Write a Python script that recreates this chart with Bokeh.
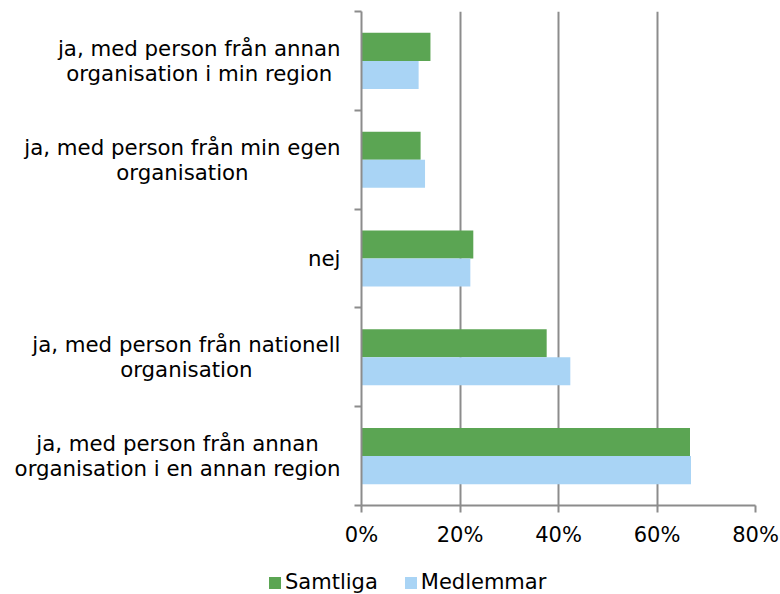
from bokeh.plotting import figure
from bokeh.layouts import column, row
from bokeh.models import (FixedTicker, NumeralTickFormatter, Legend,
                          LegendItem, Range1d, ColumnDataSource)
from bokeh.core.properties import value
from bokeh.transform import dodge
from bokeh.embed import file_html
from bokeh.resources import INLINE

# ---- data (top to bottom as in the chart) ----
categories = [
    "ja, med person från annan\norganisation i min region",
    "ja, med person från min egen\norganisation",
    "nej",
    "ja, med person från nationell\norganisation",
    "ja, med person från annan\norganisation i en annan region",
]
samtliga = [0.140, 0.120, 0.227, 0.376, 0.667]
medlemmar = [0.116, 0.129, 0.221, 0.424, 0.669]
x_ticks = [0.0, 0.2, 0.4, 0.6, 0.8]
series_names = ["Samtliga", "Medlemmar"]

GREEN = "#5BA553"
BLUE = "#A9D4F5"
GRAY = "#8C8C8C"
FONT = "DejaVu Sans"
FS = "21px"
CAT_FS = "21.3px"

W, H = 780, 594
LAB_W = 340          # width of the category-label column
LEG_H = 38           # height of the legend strip
MAIN_H = H - LEG_H
BL, BR, BT, BB = 21, 25, 11, 51

n = len(categories)
ys = [n - 1 - i + 0.5 for i in range(n)]
src = ColumnDataSource(dict(y=ys, samtliga=samtliga, medlemmar=medlemmar,
                            cat=categories))

y_range = Range1d(0, n)

# ---------------- main chart ----------------
p = figure(width=W - LAB_W, height=MAIN_H, output_backend="svg",
           toolbar_location=None,
           x_range=Range1d(x_ticks[0], x_ticks[-1]), y_range=y_range,
           min_border_left=BL, min_border_right=BR, min_border_top=BT,
           min_border_bottom=BB)
p.outline_line_color = None
p.background_fill_color = "white"
p.border_fill_color = "white"

BAR_H = 0.284
r1 = p.hbar(y=dodge("y", BAR_H / 2), left=0, right="samtliga", height=BAR_H,
            source=src, fill_color=GREEN, line_color=None)
r2 = p.hbar(y=dodge("y", -BAR_H / 2), left=0, right="medlemmar", height=BAR_H,
            source=src, fill_color=BLUE, line_color=None)

p.ygrid.visible = False
p.xgrid.ticker = FixedTicker(ticks=x_ticks)
p.xgrid.grid_line_color = GRAY
p.xgrid.grid_line_width = 2

xa = p.xaxis[0]
xa.ticker = FixedTicker(ticks=x_ticks)
xa.formatter = NumeralTickFormatter(format="0%")
xa.axis_line_color = GRAY
xa.axis_line_width = 2
xa.major_tick_line_color = GRAY
xa.major_tick_line_width = 2
xa.major_tick_in = 0
xa.major_tick_out = 7
xa.minor_tick_line_color = None
xa.major_label_standoff = 10
xa.major_label_text_font = FONT
xa.major_label_text_font_size = FS
xa.major_label_text_color = "black"

ya = p.yaxis[0]
bounds = list(range(n + 1))
ya.ticker = FixedTicker(ticks=bounds)
ya.major_label_overrides = {b: "" for b in bounds}
ya.axis_line_color = GRAY
ya.axis_line_width = 2
ya.major_tick_line_color = GRAY
ya.major_tick_line_width = 2
ya.major_tick_in = 0
ya.major_tick_out = 7
ya.minor_tick_line_color = None

# ---------------- category labels ----------------
lab = figure(width=LAB_W, height=MAIN_H, output_backend="svg",
             toolbar_location=None, x_axis_location=None,
             y_axis_location=None, x_range=Range1d(0, LAB_W),
             y_range=y_range, min_border_left=0, min_border_right=0,
             min_border_top=BT, min_border_bottom=BB)
lab.outline_line_color = None
lab.grid.visible = False
lab.text(x=LAB_W, y="y", text="cat", source=src, anchor="center_right",
         text_align="center", text_baseline="middle",
         text_font=value(FONT), text_font_size=value(CAT_FS),
         text_color="black", text_line_height=1.0)

# ---------------- legend strip ----------------
leg = figure(width=W, height=LEG_H, output_backend="svg",
             toolbar_location=None, x_axis_location=None,
             y_axis_location=None, x_range=Range1d(0, 1),
             y_range=Range1d(0, 1), min_border=0)
leg.outline_line_color = None
leg.grid.visible = False
# proxies for the legend swatches (kept outside the visible range)
g1 = leg.hbar(y=[-10], left=[0], right=[1], height=1, fill_color=GREEN,
              line_color=None)
g2 = leg.hbar(y=[-10], left=[0], right=[1], height=1, fill_color=BLUE,
              line_color=None)
legend = Legend(items=[LegendItem(label=series_names[0], renderers=[g1]),
                       LegendItem(label=series_names[1], renderers=[g2])],
                orientation="horizontal", location=(267, 0))
legend.margin = 0
legend.padding = 0
legend.spacing = 25
legend.glyph_width = 15
legend.glyph_height = 15
legend.label_height = 20
legend.label_standoff = 3
legend.label_text_font = FONT
legend.label_text_font_size = FS
legend.label_text_color = "black"
legend.label_text_baseline = "middle"
legend.border_line_color = None
legend.background_fill_alpha = 0
leg.add_layout(legend, "center")

layout = column(row(lab, p), leg, spacing=0)
open("out.html", "w").write(file_html(layout, INLINE))
